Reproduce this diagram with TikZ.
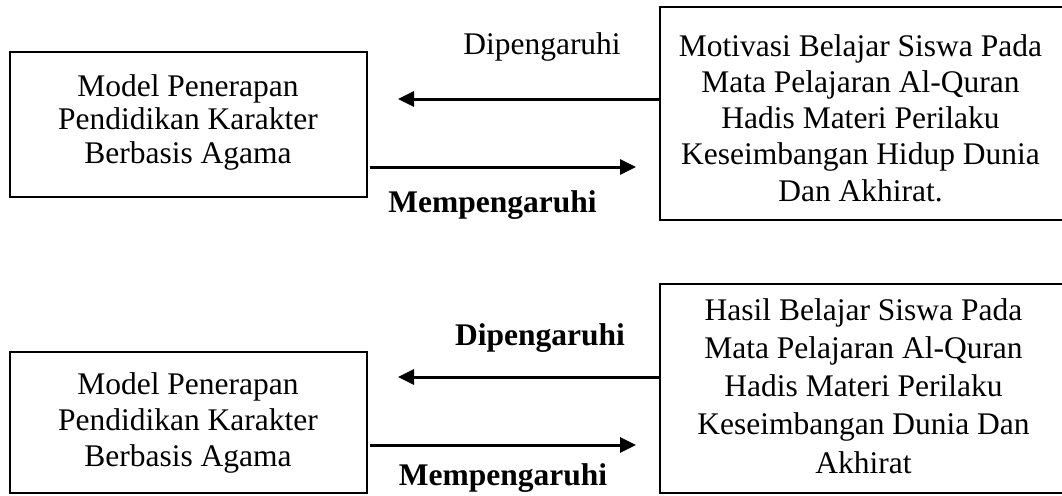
\documentclass[tikz,border=0pt]{standalone}
\usepackage{fontspec}
\setmainfont{Liberation Serif}
\usetikzlibrary{arrows.meta}
\begin{document}
\begin{tikzpicture}[x=1pt,y=-1pt,
  boxshape/.style={draw,line width=1.6pt,inner sep=0pt,rectangle},
  boxtext/.style={anchor=north,inner sep=0pt,align=center},
  lbl/.style={anchor=base,inner sep=0pt,font=\fontsize{31.5}{36}\selectfont},
  arr/.style={line width=3pt,-{Triangle[length=16pt,width=15pt]}}]
\useasboundingbox (0,0) rectangle (1062,495);
% boxes
\node[boxshape,minimum width=357pt,minimum height=145pt] (b1) at (188.5,124.5) {};
\node[boxshape,minimum width=406pt,minimum height=213pt] (b2) at (863,113.5) {};
\node[boxshape,minimum width=357pt,minimum height=141pt] (b3) at (188.5,422.5) {};
\node[boxshape,minimum width=406pt,minimum height=209pt] (b4) at (863,388.5) {};
% box texts
\node[boxtext,font=\fontsize{31.5}{33.5}\selectfont] (t1) at (188,74)
  {Model Penerapan\\Pendidikan Karakter\\Berbasis Agama};
\node[boxtext,font=\fontsize{31.5}{36.25}\selectfont] (t2) at (860.5,34)
  {Motivasi Belajar Siswa Pada\\Mata Pelajaran Al-Quran\\Hadis Materi Perilaku\\Keseimbangan Hidup Dunia\\Dan Akhirat.};
\node[boxtext,font=\fontsize{31.5}{36}\selectfont] (t3) at (188,372)
  {Model Penerapan\\Pendidikan Karakter\\Berbasis Agama};
\node[boxtext,font=\fontsize{31.5}{38.25}\selectfont] (t4) at (863.5,298)
  {Hasil Belajar Siswa Pada\\Mata Pelajaran Al-Quran\\Hadis Materi Perilaku\\Keseimbangan Dunia Dan\\Akhirat};
% arrow end points
\coordinate (a1) at (398,99);
\coordinate (a2s) at (370,167);
\coordinate (a2e) at (636,167);
\coordinate (a3) at (398,377);
\coordinate (a4s) at (370,445);
\coordinate (a4e) at (636,445);
\draw[arr] (b2.west |- a1) -- (a1);
\draw[arr] (a2s) -- (a2e);
\draw[arr] (b4.west |- a3) -- (a3);
\draw[arr] (a4s) -- (a4e);
% labels
\node[lbl] (l1) at (542,55) {Dipengaruhi};
\node[lbl] (l2) at (492.5,212) {\bfseries Mempengaruhi};
\node[lbl] (l3) at (540,345) {\bfseries Dipengaruhi};
\node[lbl] (l4) at (503,485) {\bfseries Mempengaruhi};
\end{tikzpicture}
\end{document}
